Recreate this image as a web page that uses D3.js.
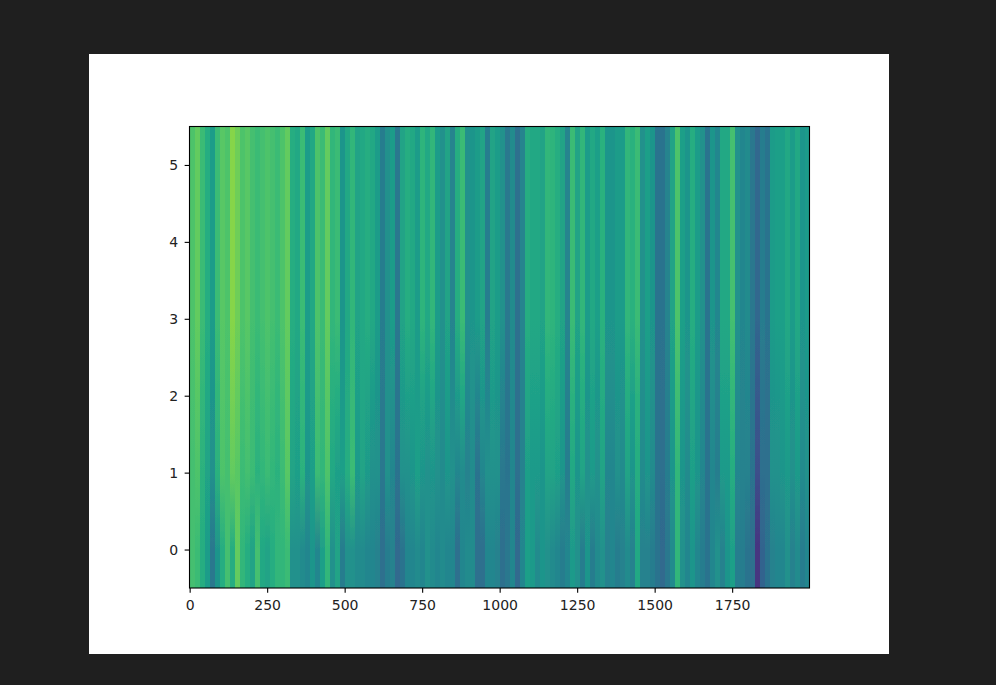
<!DOCTYPE html>
<html>
<head>
<meta charset="utf-8">
<script src="https://cdn.jsdelivr.net/npm/d3@7"></script>
<style>
html,body{margin:0;padding:0;background:#1f1f1f;overflow:hidden}
svg{display:block}
text{font-family:"DejaVu Sans",sans-serif}
</style>
</head>
<body>
<svg id="chart" width="996" height="685"></svg>
<script>
const xTicks = [0,250,500,750,1000,1250,1500,1750];
const yTicks = [0,1,2,3,4,5];
const binWidth = 2000/124;
const rowUpper = [
.72,.76,.68,.62,.55,.68,.74,.72,.82,.78,
.72,.74,.70,.68,.70,.72,.70,.68,.72,.76,
.62,.60,.68,.55,.60,.72,.68,.76,.66,.68,
.52,.60,.66,.58,.60,.62,.60,.55,.42,.50,
.55,.40,.58,.62,.60,.55,.65,.60,.66,.55,
.50,.58,.45,.62,.68,.50,.52,.55,.58,.42,
.58,.55,.50,.40,.48,.36,.45,.62,.60,.60,
.58,.66,.65,.62,.58,.45,.68,.58,.66,.55,
.60,.56,.64,.52,.52,.55,.55,.66,.64,.68,
.50,.56,.52,.38,.38,.45,.58,.72,.56,.52,
.62,.55,.50,.38,.52,.46,.60,.60,.70,.50,
.46,.48,.40,.33,.42,.38,.55,.56,.56,.60,
.55,.60,.52,.54];
const rowCentre = [
.71,.74,.66,.60,.52,.66,.73,.71,.79,.76,
.70,.72,.69,.66,.68,.70,.68,.66,.70,.75,
.60,.58,.66,.54,.58,.70,.67,.74,.63,.62,
.54,.61,.67,.56,.59,.58,.55,.52,.41,.50,
.50,.39,.54,.56,.56,.55,.58,.55,.59,.52,
.49,.55,.48,.54,.59,.47,.50,.46,.52,.46,
.54,.52,.45,.39,.47,.36,.44,.59,.57,.57,
.55,.62,.61,.59,.55,.43,.64,.55,.62,.52,
.57,.53,.61,.49,.49,.52,.51,.62,.57,.64,
.49,.54,.50,.38,.37,.43,.55,.69,.54,.50,
.59,.53,.48,.38,.49,.44,.57,.57,.66,.48,
.45,.46,.39,.28,.39,.37,.52,.53,.54,.57,
.52,.57,.50,.52];
const rowMiddle = [
.70,.72,.64,.58,.50,.64,.72,.70,.76,.74,
.68,.70,.68,.64,.66,.68,.66,.64,.68,.74,
.58,.56,.64,.52,.56,.68,.66,.72,.60,.56,
.56,.62,.68,.54,.58,.54,.50,.50,.40,.50,
.46,.38,.50,.50,.52,.56,.52,.50,.52,.50,
.48,.52,.50,.46,.48,.44,.48,.38,.46,.50,
.50,.50,.40,.38,.46,.36,.44,.56,.54,.54,
.52,.58,.58,.56,.52,.42,.60,.52,.58,.50,
.54,.50,.58,.46,.46,.50,.48,.58,.52,.62,
.48,.52,.48,.38,.36,.42,.52,.66,.52,.48,
.56,.52,.46,.38,.46,.42,.54,.54,.62,.46,
.44,.44,.38,.24,.36,.36,.50,.50,.52,.54,
.50,.54,.48,.50];
const rowBottom = [
.70,.68,.62,.55,.40,.52,.62,.70,.62,.76,
.66,.62,.58,.70,.60,.58,.62,.66,.66,.68,
.50,.50,.48,.46,.52,.46,.56,.66,.50,.58,
.42,.50,.50,.48,.48,.46,.46,.44,.36,.42,
.44,.34,.38,.46,.46,.48,.46,.50,.48,.46,
.48,.46,.46,.36,.46,.48,.48,.36,.36,.46,
.46,.44,.36,.40,.46,.34,.46,.56,.54,.48,
.52,.50,.48,.46,.42,.46,.54,.50,.42,.52,
.42,.48,.50,.44,.46,.42,.44,.48,.44,.60,
.44,.44,.42,.38,.34,.40,.48,.66,.50,.46,
.52,.46,.42,.38,.46,.50,.44,.52,.56,.42,
.42,.38,.36,.15,.32,.38,.44,.46,.46,.50,
.44,.48,.42,.46];
const rows = [rowBottom,rowMiddle,rowCentre,rowUpper,rowUpper,rowUpper];

const svg = d3.select("#chart");
svg.append("rect").attr("x",89).attr("y",54).attr("width",800).attr("height",600).attr("fill","#fff");

const margin = {left:189.5,right:809.5,top:126.5,bottom:588};
const x = d3.scaleLinear().domain([-0.5,1999.5]).range([margin.left,margin.right]);
const y = d3.scaleLinear().domain([-0.5,5.5]).range([margin.bottom,margin.top]);
const color = d3.scaleSequential(d3.interpolateViridis).domain([0,1]);

const defs = svg.append("defs");
const blur = defs.append("filter").attr("id","soft").attr("x","-2%").attr("width","104%");
blur.append("feGaussianBlur").attr("stdDeviation","0.7 0");
defs.append("clipPath").attr("id","plot").append("rect")
  .attr("x",margin.left).attr("y",margin.top)
  .attr("width",margin.right-margin.left).attr("height",margin.bottom-margin.top);

const columns = d3.range(rowUpper.length);
const grads = defs.selectAll("linearGradient.c").data(columns).join("linearGradient")
  .attr("class","c")
  .attr("id",c=>"col"+c)
  .attr("gradientUnits","userSpaceOnUse")
  .attr("x1",0).attr("x2",0)
  .attr("y1",y(-0.5)).attr("y2",y(5.5));
grads.selectAll("stop").data(c=>rows.map((r,i)=>({v:r[c],i}))).join("stop")
  .attr("offset",d=>(d.i+0.5)/rows.length)
  .attr("stop-color",d=>color(d.v));

const heat = svg.append("g").attr("clip-path","url(#plot)").append("g").attr("filter","url(#soft)");
const cells = [];
rows.forEach((r,ri)=>r.forEach((v,c)=>cells.push({ri,c,v})));
heat.selectAll("rect").data(cells).join("rect")
  .attr("shape-rendering","crispEdges")
  .attr("x",d=>x(d.c*binWidth-0.5))
  .attr("width",x(binWidth)-x(0)+0.5)
  .attr("y",d=>y(d.ri+0.5))
  .attr("height",y(0)-y(1)+0.5)
  .attr("fill",d=>"url(#col"+d.c+")");

const fontPx = 14, tick = 4.86;
const gx = svg.append("g").attr("transform",`translate(0,${margin.bottom})`)
  .call(d3.axisBottom(x).tickValues(xTicks).tickFormat(d3.format("d")).tickSize(tick).tickPadding(7.5));
const gy = svg.append("g").attr("transform",`translate(${margin.left},0)`)
  .call(d3.axisLeft(y).tickValues(yTicks).tickFormat(d3.format("d")).tickSize(tick).tickPadding(6.5));
[gx,gy].forEach(g=>{
  g.select(".domain").remove();
  g.selectAll("text").attr("font-size",fontPx).attr("font-family","DejaVu Sans").attr("fill","#222");
  g.selectAll("line").attr("stroke","#000").attr("stroke-width",1.1);
});
svg.append("rect").attr("x",margin.left).attr("y",margin.top)
  .attr("width",margin.right-margin.left).attr("height",margin.bottom-margin.top)
  .attr("fill","none").attr("stroke","#000").attr("stroke-width",1.1);
</script>
</body>
</html>
